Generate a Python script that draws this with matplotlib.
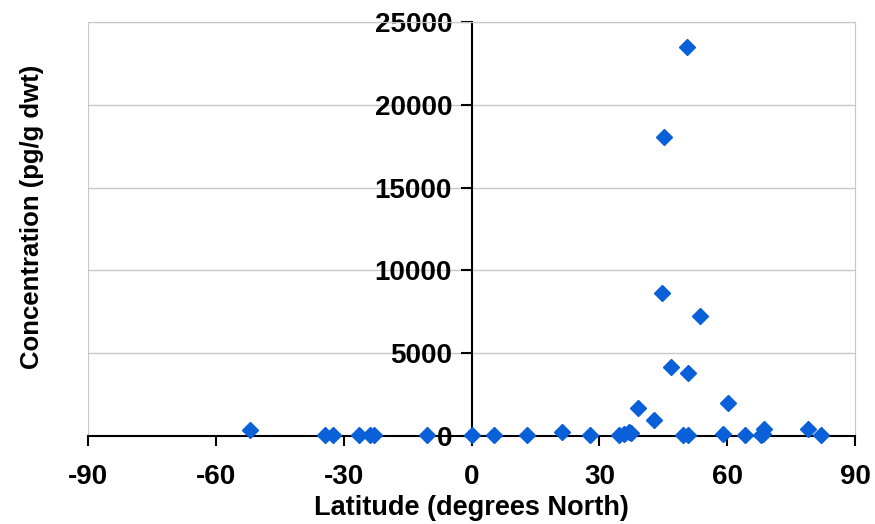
import matplotlib.pyplot as plt

# latitude (deg N) and concentration (pg/g dwt)
lat = [-52, -34.4, -32.5, -26.4, -23.8, -23, -10.4, 0, 5.2, 12.9,
       21.3, 27.9, 34.5, 35.8, 36.9, 37.5, 39.1, 42.8, 44.8, 45.2,
       46.7, 49.6, 50.6, 50.9, 50.9, 53.6, 59.1, 60.3, 64.2, 67.9,
       68.5, 68.7, 78.9, 81.9]
conc = [360, 50, 30, 60, 80, 40, 30, 50, 30, 40,
        260, 50, 50, 120, 260, 150, 1670, 970, 8620, 18050,
        4150, 50, 23490, 60, 3790, 7250, 120, 2010, 50, 50,
        100, 420, 420, 50]

xticks = [-90, -60, -30, 0, 30, 60, 90]
yticks = [0, 5000, 10000, 15000, 20000, 25000]

plt.rcParams['font.family'] = ['Liberation Sans', 'DejaVu Sans']
plt.rcParams['font.weight'] = 'bold'
plt.rcParams['axes.unicode_minus'] = False

fig = plt.figure(figsize=(8.75, 5.24), dpi=100)
ax = fig.add_axes([0.1006, 0.168, 0.8766, 0.79])

ax.set_xlim(-90, 90)
ax.set_ylim(0, 25000)
ax.set_xticks(xticks)
ax.set_yticks(yticks)

# grid and box in light grey
ax.grid(axis='y', color='#c8c8c8', linewidth=1)
ax.set_axisbelow(True)
ax.axvline(-90, color='#c8c8c8', linewidth=1.5, zorder=0)
ax.spines['right'].set_color('#c8c8c8')
ax.spines['top'].set_color('#c8c8c8')
ax.spines['left'].set_position(('data', 0))
ax.spines['left'].set_linewidth(1.5)
ax.spines['bottom'].set_linewidth(1.5)

ax.tick_params(axis='both', direction='out', labelsize=20, width=1.5)
ax.tick_params(axis='x', length=7, pad=13)
ax.tick_params(axis='y', length=8, pad=6)
for lb in ax.get_xticklabels() + ax.get_yticklabels():
    lb.set_fontweight('bold')

ax.plot(lat, conc, 'D', color='#0a60d8', markersize=8.5, clip_on=False, zorder=5)

ax.set_xlabel('Latitude (degrees North)', fontsize=19.5, fontweight='bold', labelpad=4)
ax.set_ylabel('Concentration (pg/g dwt)', fontsize=18.5, fontweight='bold')
ax.yaxis.set_label_coords(-0.058, 0.53)

plt.savefig('out.png', dpi=100)
